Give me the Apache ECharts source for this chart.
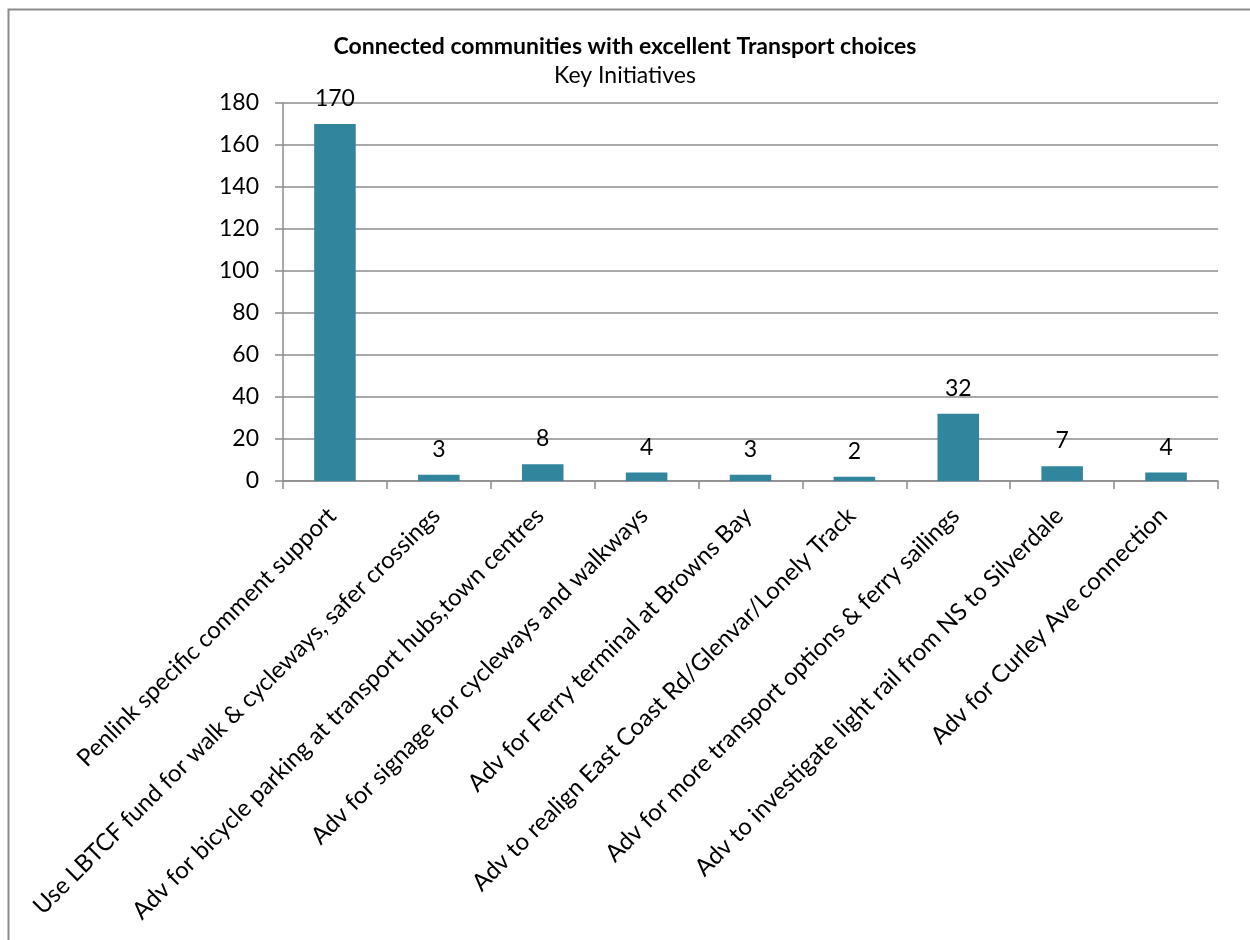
<!DOCTYPE html>
<html>
<head>
<meta charset="utf-8">
<script src="https://cdn.jsdelivr.net/npm/echarts@6/dist/echarts.min.js"></script>
<style>html,body{margin:0;padding:0;background:#fff}#c{width:1250px;height:940px}</style>
</head>
<body>
<div id="c"></div>
<script>
const titleText = "Connected communities with excellent Transport choices";
const subtitleText = "Key Initiatives";
const categories = [
  "Penlink specific comment support",
  "Use LBTCF fund for walk & cycleways, safer crossings",
  "Adv for bicycle parking at transport hubs,town centres",
  "Adv for signage for cycleways and walkways",
  "Adv for Ferry terminal at Browns Bay",
  "Adv to realign East Coast Rd/Glenvar/Lonely Track",
  "Adv for more transport options & ferry sailings",
  "Adv to investigate light rail from NS to Silverdale",
  "Adv for Curley Ave connection"
];
const values = [170, 3, 8, 4, 3, 2, 32, 7, 4];
const yTicks = [0, 20, 40, 60, 80, 100, 120, 140, 160, 180];

const font = "Lato, 'Open Sans', sans-serif";
const chart = echarts.init(document.getElementById('c'), null, {renderer: 'canvas'});
chart.setOption({
  backgroundColor: '#fff',
  animation: false,
  graphic: [{
    type: 'rect', shape: {x: 8.5, y: 9.5, width: 1300, height: 1000},
    style: {fill: 'none', stroke: '#8c8c8c', lineWidth: 2}, z: -10
  }],
  title: [
    {text: titleText, left: 'center', top: 30, textStyle: {fontFamily: font, fontSize: 23, fontWeight: 'bold', color: '#000'}},
    {text: subtitleText, left: 'center', top: 59, textStyle: {fontFamily: font, fontSize: 23, fontWeight: 'normal', color: '#000'}}
  ],
  grid: {left: 283, right: 32, top: 103, bottom: 459, containLabel: false},
  xAxis: {
    type: 'category', data: categories,
    axisLine: {lineStyle: {color: '#8c8c8c', width: 1.5}},
    axisTick: {show: true, length: 8, lineStyle: {color: '#8c8c8c', width: 1.5}},
    axisLabel: {rotate: 45, interval: 0, color: '#000', fontFamily: font, fontSize: 24, margin: 28, padding: [0, 4, 0, 0]}
  },
  yAxis: {
    type: 'value', min: 0, max: 180, interval: 20,
    axisLine: {show: true, lineStyle: {color: '#8c8c8c', width: 1.5}},
    axisTick: {show: true, length: 8, lineStyle: {color: '#8c8c8c', width: 1.5}},
    splitLine: {lineStyle: {color: '#8c8c8c', width: 1.5}},
    axisLabel: {color: '#000', fontFamily: font, fontSize: 23, margin: 24,
      formatter: v => yTicks.includes(v) ? String(v) : ''}
  },
  series: [{
    type: 'bar', data: values, barWidth: '40%',
    itemStyle: {color: '#31859c'},
    label: {show: true, position: 'top', distance: 14, color: '#000', fontFamily: font, fontSize: 23}
  }]
});
</script>
</body>
</html>
